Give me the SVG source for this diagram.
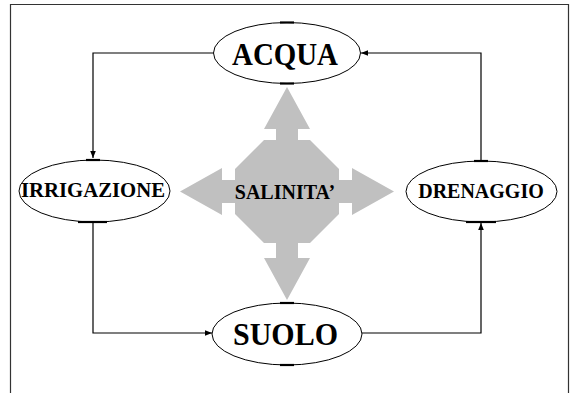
<svg xmlns="http://www.w3.org/2000/svg" width="570" height="393" viewBox="0 0 570 393">
<style>
.node ellipse{fill:#fff;stroke:#000;stroke-width:1}
.tick{stroke:#000;stroke-width:2.2}
.lbl{font-family:"Liberation Serif","Times New Roman",serif;font-weight:bold;fill:#000;text-anchor:middle}
.conn path{fill:none;stroke:#000;stroke-width:1.2}
</style>
<defs>
<marker id="ah" viewBox="0 0 8 8" refX="8" refY="4" markerWidth="7" markerHeight="7" markerUnits="userSpaceOnUse" orient="auto">
<path d="M0,0.8 L8,4 L0,7.2 Z" fill="#000"/>
</marker>
</defs>
<rect width="570" height="393" fill="#fff"/>
<path d="M10.5,393 V4.5 H568.5 V393" fill="none" stroke="#333" stroke-width="1.2"/>

<g id="salinita">
<path d="M287,87 L310,129 L298,129 L298,140 L310,140 L339,169 L339,180 L352,180 L352,168 L394,191.5 L352,215 L352,203 L339,203 L339,214 L310,243 L298,243 L298,258 L310,258 L287,300 L264,258 L276,258 L276,243 L264,243 L235,214 L235,203 L222,203 L222,215 L180,191.5 L222,168 L222,180 L235,180 L235,169 L264,140 L276,140 L276,129 L264,129 Z" fill="#c0c0c0"/>
<text class="lbl" x="285" y="199" font-size="20">SALINITA’</text>
</g>

<g class="conn" id="connectors">
<path d="M214,53 H93 V158" marker-end="url(#ah)"/>
<path d="M93,222 V333 H212" marker-end="url(#ah)"/>
<path d="M362,333 H481 V223" marker-end="url(#ah)"/>
<path d="M481,160 V53 H361" marker-end="url(#ah)"/>
</g>

<g class="node" id="acqua">
<ellipse cx="287" cy="53" rx="73.5" ry="30.5"/>
<line class="tick" x1="280" y1="22.5" x2="294" y2="22.5"/>
<line class="tick" x1="280" y1="83.5" x2="294" y2="83.5"/>
<text class="lbl" x="285" y="65" font-size="31" textLength="106" lengthAdjust="spacingAndGlyphs">ACQUA</text>
</g>

<g class="node" id="irrigazione">
<ellipse cx="94.5" cy="191" rx="75.5" ry="31"/>
<line class="tick" x1="86" y1="160" x2="100" y2="160"/>
<line class="tick" x1="78" y1="222" x2="107" y2="222"/>
<text class="lbl" x="93" y="197" font-size="21" textLength="144" lengthAdjust="spacingAndGlyphs">IRRIGAZIONE</text>
</g>

<g class="node" id="drenaggio">
<ellipse cx="481.5" cy="191.5" rx="75.5" ry="30.5"/>
<line class="tick" x1="474" y1="161" x2="488" y2="161"/>
<line class="tick" x1="466" y1="222" x2="496" y2="222"/>
<text class="lbl" x="481" y="198" font-size="20">DRENAGGIO</text>
</g>

<g class="node" id="suolo">
<ellipse cx="287" cy="334" rx="75" ry="31"/>
<line class="tick" x1="280" y1="303" x2="294" y2="303"/>
<line class="tick" x1="280" y1="365" x2="294" y2="365"/>
<text class="lbl" x="285.5" y="345" font-size="31" textLength="105" lengthAdjust="spacingAndGlyphs">SUOLO</text>
</g>
</svg>
